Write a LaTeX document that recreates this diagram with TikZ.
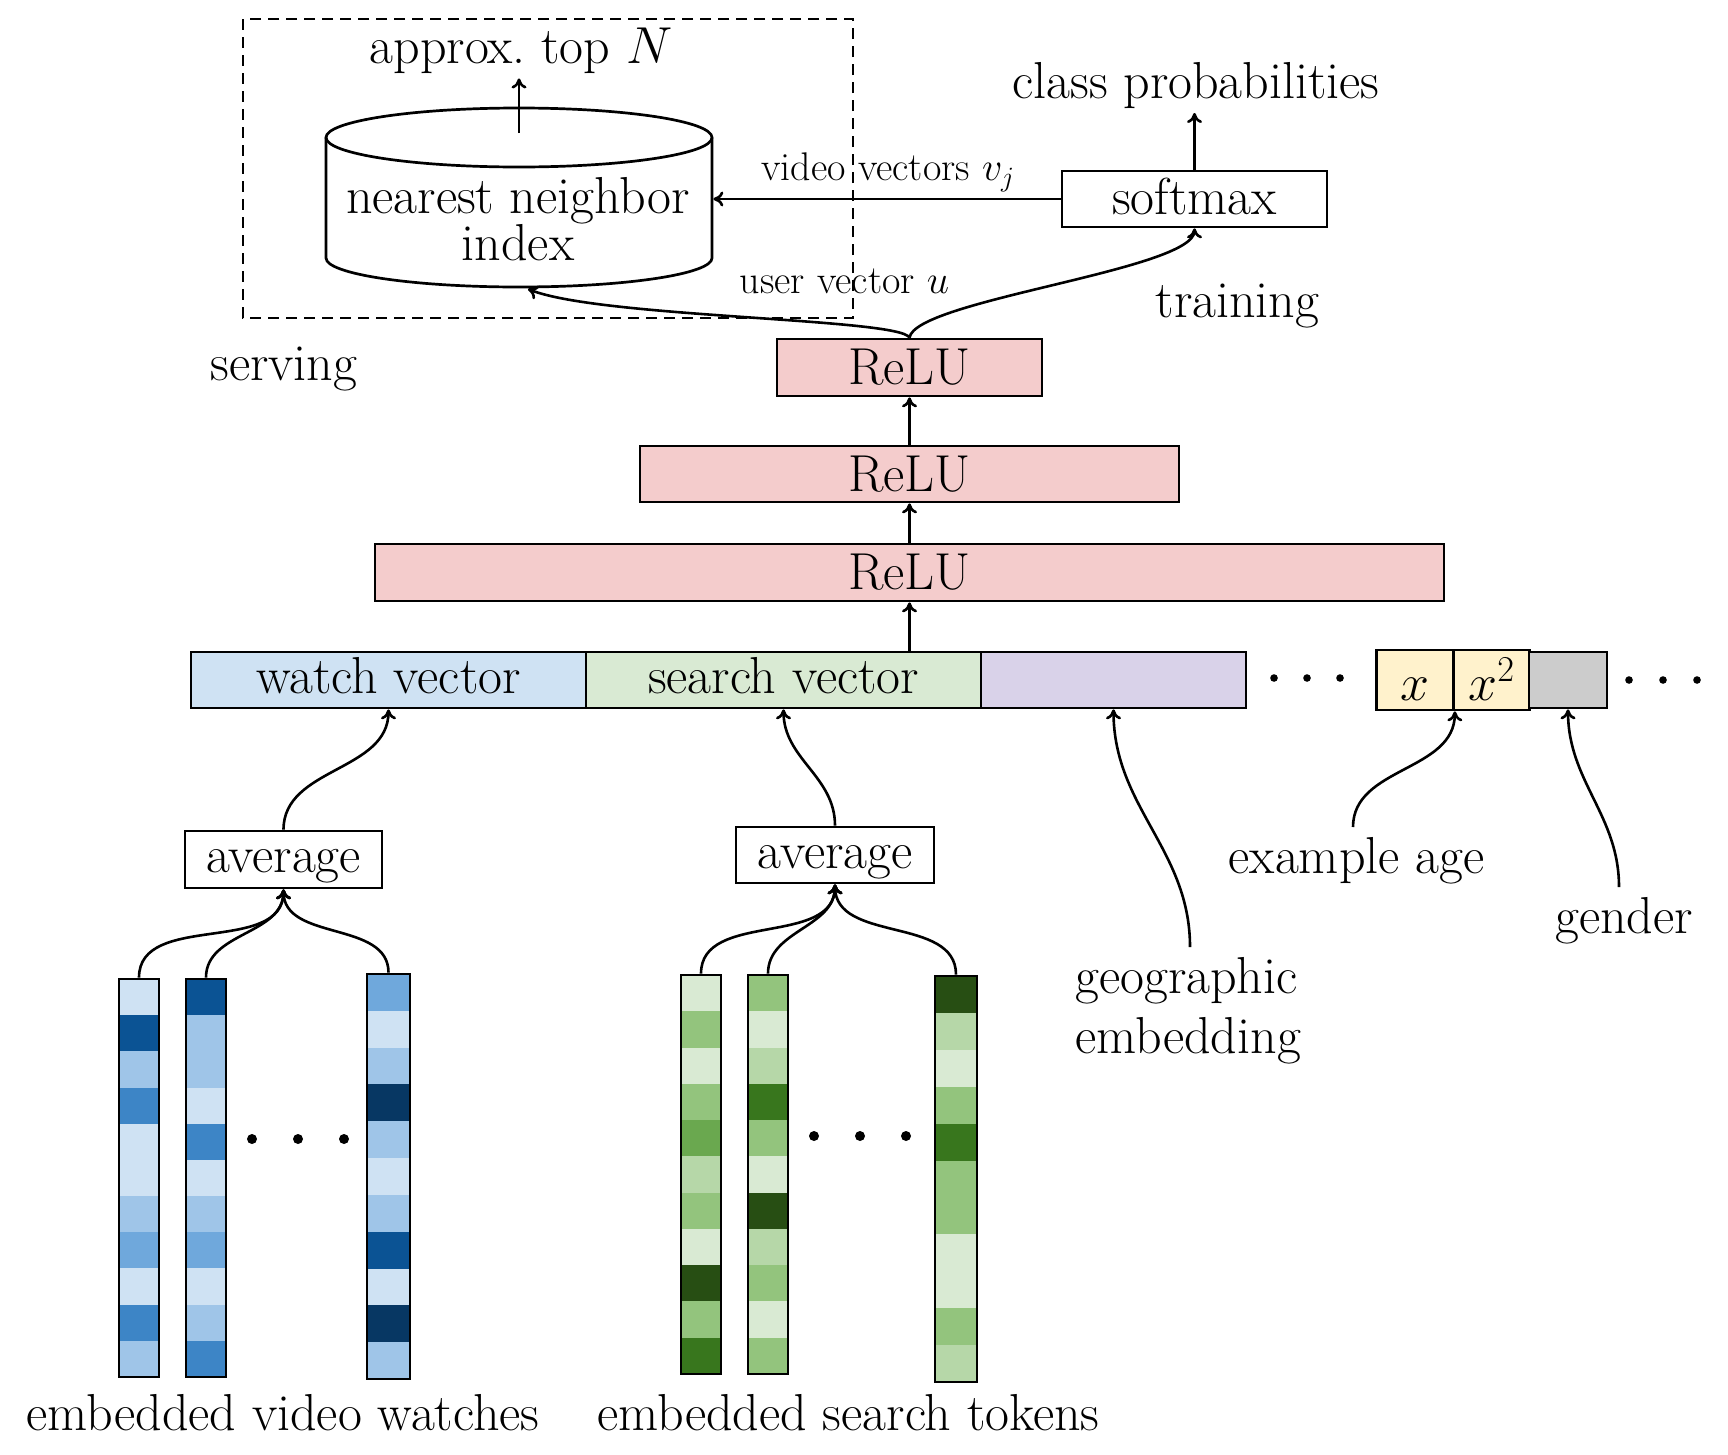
\RequirePackage{fix-cm}
\documentclass[tikz,border=0pt]{standalone}
\usetikzlibrary{arrows.meta,calc}
\definecolor{reluc}{HTML}{F4CCCC}
\definecolor{watchc}{HTML}{CFE2F3}
\definecolor{searchc}{HTML}{D9EAD3}
\definecolor{geoc}{HTML}{D9D2E9}
\definecolor{agec}{HTML}{FFF2CC}
\definecolor{grayc}{HTML}{CCCCCC}
\definecolor{Ba}{HTML}{CFE2F3}
\definecolor{Bb}{HTML}{9FC5E8}
\definecolor{Bc}{HTML}{6FA8DC}
\definecolor{Bd}{HTML}{3D85C6}
\definecolor{Be}{HTML}{0B5394}
\definecolor{Bf}{HTML}{073763}
\definecolor{Ga}{HTML}{D9EAD3}
\definecolor{Gb}{HTML}{B6D7A8}
\definecolor{Gc}{HTML}{93C47D}
\definecolor{Gd}{HTML}{6AA84F}
\definecolor{Ge}{HTML}{38761D}
\definecolor{Gf}{HTML}{274E13}
\newcommand{\figfont}{\fontsize{52pt}{52pt}\selectfont}
\newcommand{\figsmall}{\fontsize{40pt}{40pt}\selectfont}
% name, cx, cy, w, h, colours
\newcommand{\embcol}[6]{%
  \foreach \c [count=\i from 0] in {#6} {
    \fill[\c] ({#2-#4/2},{-#3+#5/2-\i*#5/11}) rectangle ({#2+#4/2},{-#3+#5/2-(\i+1)*#5/11});
  }
  \node[colbox, minimum width=#4pt, minimum height=#5pt] (#1) at (#2,-#3) {};
}
\begin{document}
\begin{tikzpicture}[x=1pt,y=1pt, line width=2.7pt,
  >={Computer Modern Rightarrow[length=10pt,width=15pt]},
  box/.style={draw, rectangle, inner sep=0pt, line width=2.7pt, font=\figfont, text height=36pt, text depth=10pt},
  relubox/.style={box, fill=reluc, text height=44pt},
  lbl/.style={inner sep=0pt, font=\figfont},
  slbl/.style={inner sep=0pt, font=\figsmall},
  colbox/.style={draw, rectangle, inner sep=0pt, line width=2.9pt},
  conn/.style={->, line width=2.6pt}
]
\fill[white] (0,0) rectangle (1728,-1454);
\useasboundingbox (0,0) rectangle (1728,-1454);

% serving box
\draw[dash pattern=on 11pt off 7pt, line width=2.3pt] (243,-19) rectangle (853,-318);

% cylinder
\draw[fill=white] (326,-137.5) -- (326,-258) arc[start angle=180,end angle=360,x radius=193,y radius=29] -- (712,-137.5);
\draw (519,-137.5) ellipse [x radius=193,y radius=29.5];
\node[inner sep=0pt, minimum width=386pt, minimum height=179pt] (cyl) at (519,-197.5) {};
\node[lbl, anchor=base] (nn1) at (518,-213) {nearest neighbor};
\node[lbl, anchor=base] (nn2) at (518,-260) {index};
\coordinate (cyltop) at (519,-133);
\coordinate (cylb) at (528,-289);
\node[lbl, anchor=base] (topn) at (521,-63) {approx.\ top $N$};
\draw[conn, shorten >=4pt] (cyltop) -- (cyltop |- topn.south);

% softmax
\node[box, minimum width=265pt, minimum height=56pt, text height=40pt] (softmax) at (1194.5,-199) {softmax};
\node[lbl, anchor=base] (classp) at (1196,-98) {class probabilities};
\coordinate (cpin) at (1194.5,-113);
\draw[conn] (softmax.north) -- (cpin);
\draw[conn] (softmax.west) -- (cyl.east |- softmax.west);
\node[slbl, anchor=base] (vv) at (888,-180) {video vectors $v_j$};

% ReLU stack
\node[relubox, minimum width=265pt, minimum height=57pt] (relu3) at (909.5,-367.5) {ReLU};
\node[relubox, minimum width=539pt, minimum height=56pt] (relu2) at (909.5,-474) {ReLU};
\node[relubox, minimum width=1069pt, minimum height=57pt] (relu1) at (909.5,-572.5) {ReLU};

\draw[conn] (relu3.north) .. controls (915,-300) and (1194.5,-270) .. (softmax.south);
\draw[conn] (relu3.north) .. controls (900,-318) and (600,-318) .. (cylb);
\node[slbl, anchor=base] (uv) at (844.5,-293) {user vector $u$};
\node[lbl, anchor=base] (train) at (1237.5,-317) {training};
\node[lbl, anchor=base] (serv) at (284,-380) {serving};

% input row
\node[box, fill=watchc, minimum width=395pt, minimum height=56pt] (watch) at (388.5,-680) {watch vector};
\node[box, fill=searchc, minimum width=395pt, minimum height=56pt] (search) at (783.5,-680) {search vector};
\node[box, fill=geoc, minimum width=265pt, minimum height=56pt] (geo) at (1113.5,-680) {};
\node[box, fill=agec, minimum width=77pt, minimum height=56pt, text height=50pt] (xa) at (1415,-680) {$x$};
\node[box, fill=agec, minimum width=76pt, minimum height=56pt, text height=50pt] (xb) at (1491.5,-680) {$x^2$};
\node[box, fill=grayc, minimum width=78pt, minimum height=56pt] (gen) at (1568,-680) {};
\foreach \xx in {1274,1307,1340} \fill (\xx,-678) circle (3.8pt);
\foreach \xx in {1629,1663,1697} \fill (\xx,-680) circle (3.8pt);

\draw[conn] (relu1.south |- search.north) -- (relu1.south);
\draw[conn] (relu1.north) -- (relu2.south);
\draw[conn] (relu2.north) -- (relu3.south);

% averages
\node[box, minimum width=197pt, minimum height=57pt] (avg1) at (283.5,-859.5) {average};
\node[box, minimum width=198pt, minimum height=56pt] (avg2) at (835,-855) {average};
\draw[conn] (avg1.north) to[out=90,in=-90] (watch.south);
\draw[conn] (avg2.north) to[out=90,in=-90] (search.south);

% side labels
\node[lbl, anchor=base west] (geo1) at (1074,-993) {geographic};
\node[lbl, anchor=base west] (geo2) at (1074,-1053) {embedding};
\node[lbl, anchor=base] (exage) at (1356.5,-873) {example age};
\node[lbl, anchor=base] (gend) at (1624,-933) {gender};
\coordinate (geos) at (1190,-947);
\coordinate (ages) at (1353,-827);
\coordinate (gens) at (1619,-887);
\draw[conn] (geos) to[out=90,in=-90] (geo.south);
\draw[conn] (ages) to[out=90,in=-90] (xa.south east);
\draw[conn] (gens) to[out=90,in=-90] (gen.south);

% embedding columns
\embcol{b1}{139}{1178}{40}{398}{Ba,Be,Bb,Bd,Ba,Ba,Bb,Bc,Ba,Bd,Bb}
\embcol{b2}{206}{1178}{40}{398}{Be,Bb,Bb,Ba,Bd,Ba,Bb,Bc,Ba,Bb,Bd}
\embcol{b3}{388.5}{1176.5}{43}{405}{Bc,Ba,Bb,Bf,Bb,Ba,Bb,Be,Ba,Bf,Bb}
\embcol{g1}{701}{1174.5}{40}{399}{Ga,Gc,Ga,Gc,Gd,Gb,Gc,Ga,Gf,Gc,Ge}
\embcol{g2}{768}{1174.5}{40}{399}{Gc,Ga,Gb,Ge,Gc,Ga,Gf,Gb,Gc,Ga,Gc}
\embcol{g3}{956}{1179}{42}{406}{Gf,Gb,Ga,Gc,Ge,Gc,Gc,Ga,Ga,Gc,Gb}
\foreach \xx in {252,298,344} \fill (\xx,-1139) circle (5pt);
\foreach \xx in {814,860,906} \fill (\xx,-1136) circle (5pt);

\foreach \cc in {b1,b2,b3} \draw[conn] (\cc.north) to[out=90,in=-90] (avg1.south);
\foreach \cc in {g1,g2,g3} \draw[conn] (\cc.north) to[out=90,in=-90] (avg2.south);

\node[lbl, anchor=base] (evw) at (283,-1430) {embedded video watches};
\node[lbl, anchor=base] (est) at (848.5,-1430) {embedded search tokens};
\end{tikzpicture}
\end{document}
